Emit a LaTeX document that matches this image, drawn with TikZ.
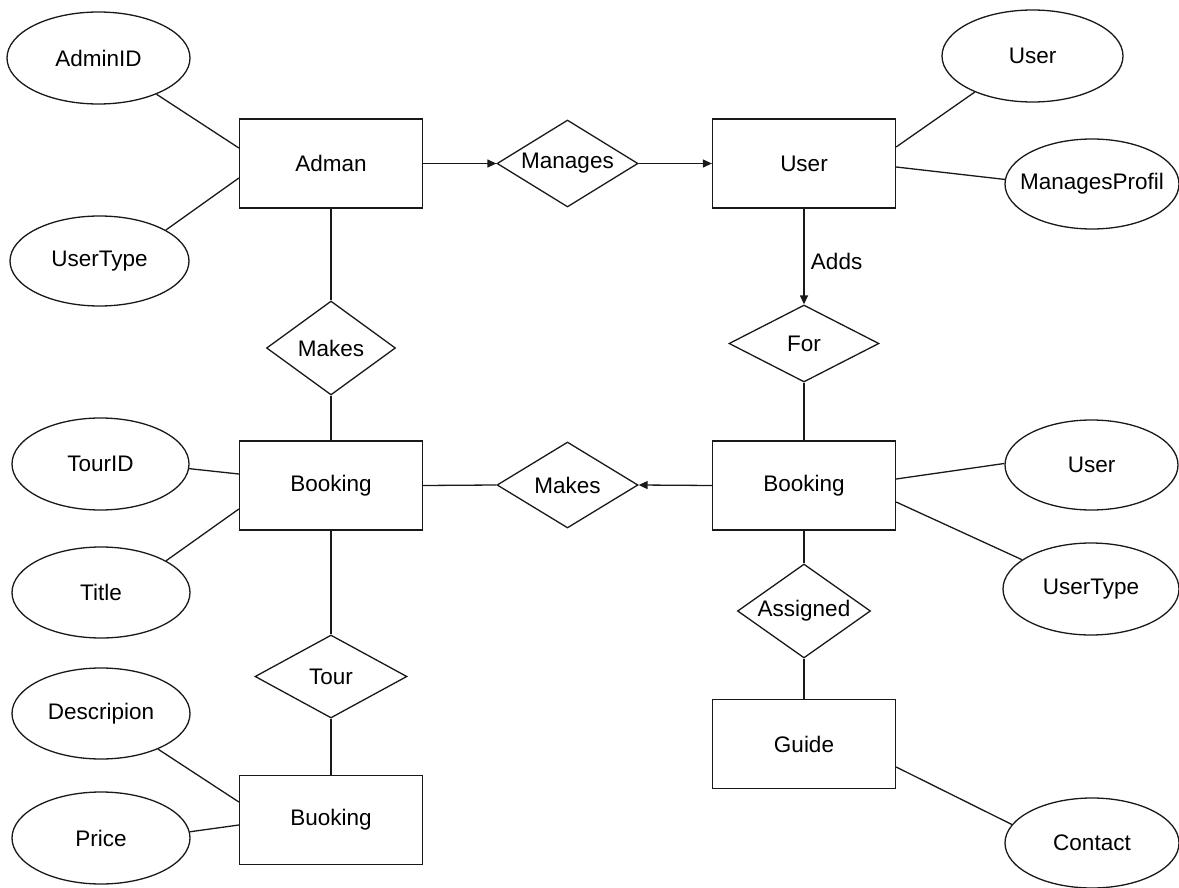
\documentclass[tikz,border=0pt]{standalone}
\usepackage{fontspec}
\setmainfont{Liberation Sans}
\usetikzlibrary{shapes.geometric,arrows.meta,calc}
\tikzset{
  base/.style={draw=black!90, line width=1.3pt, inner sep=0pt, font=\fontsize{22.5}{26}\selectfont},
  entity/.style={base, rectangle, minimum width=183pt, minimum height=89pt},
  attr/.style={base, ellipse, minimum width=#1},
  rel/.style={base, diamond},
  link/.style={draw=black!90, line width=1.3pt},
  arr/.style={link, -{Triangle[length=9pt,width=8pt]}}
}
\newcommand{\tx}[1]{\makebox[0pt][c]{#1}}
\begin{document}
\begin{tikzpicture}[x=1pt,y=-1pt]
\useasboundingbox[fill=white] (0,0) rectangle (1179,888);
% entities
\node[entity] (adman) at (331,163.5) {\tx{Adman}};
\node[entity] (user) at (804,163.5) {\tx{User}};
\node[entity] (bookL) at (331,485.5) {\tx{Booking}};
\node[entity] (bookR) at (804,485.5) {\tx{Booking}};
\node[entity] (buoking) at (331,820) {\tx{Buoking}};
\node[entity] (guide) at (804,744) {\tx{Guide}};
% relationships
\node[rel, minimum width=141pt, minimum height=87pt] (manages) at (567.5,163.5) {\tx{Manages}};
\node[rel, minimum width=129pt, minimum height=94pt] (makesA) at (331,348) {\tx{Makes}};
\node[rel, minimum width=150pt, minimum height=77pt] (forD) at (804,343.5) {\tx{For}};
\node[rel, minimum width=141pt, minimum height=86pt] (makesB) at (567.5,485) {\tx{Makes}};
\node[rel, minimum width=152pt, minimum height=83pt] (tour) at (331,676.5) {\tx{Tour}};
\node[rel, minimum width=133pt, minimum height=94pt] (assigned) at (804,611) {\tx{Assigned}};
% attributes
\node[attr=183pt, minimum height=92pt] (adminid) at (98.5,58) {\tx{AdminID}};
\node[attr=179pt, minimum height=90pt] (utL) at (99.5,261) {\tx{UserType}};
\node[attr=181pt, minimum height=92pt] (userTop) at (1032.5,56) {\tx{User}};
\node[attr=174pt, minimum height=90pt] (mprof) at (1092,184) {\tx{ManagesProfil}};
\node[attr=177pt, minimum height=92pt] (tourid) at (100.5,464) {\tx{TourID}};
\node[attr=178pt, minimum height=91pt] (title) at (101,592.5) {\tx{Title}};
\node[attr=178pt, minimum height=91pt] (desc) at (101,713.5) {\tx{Descripion}};
\node[attr=178pt, minimum height=92pt] (price) at (101,838) {\tx{Price}};
\node[attr=173pt, minimum height=90pt] (userR) at (1091.5,465) {\tx{User}};
\node[attr=176pt, minimum height=92pt] (utR) at (1091,589) {\tx{UserType}};
\node[attr=174pt, minimum height=90pt] (contact) at (1092,843) {\tx{Contact}};
% relationship connectors
\draw[arr] (adman.east) -- (manages.west);
\draw[arr] (manages.east) -- (user.west);
\draw[arr] (user.south) -- node[pos=0.55, right=3pt, font=\fontsize{22.5}{26}\selectfont] (addsLbl) {Adds} (forD.north);
\draw[link] (forD.south) -- (bookR.north);
\draw[link] (adman.south) -- (makesA.north);
\draw[link] (makesA.south) -- (bookL.north);
\draw[link] (bookL.east) -- (makesB.west);
\draw[arr] (bookR.west) -- (makesB.east);
\draw[link] (bookL.south) -- (tour.north);
\draw[link] (tour.south) -- (buoking.north);
\draw[link] (bookR.south) -- (assigned.north);
\draw[link] (assigned.south) -- (guide.north);
% attribute connectors
\draw[link] (adminid.-32) -- ($(adman.west)+(0,-15.5)$);
\draw[link] (utL.25) -- ($(adman.west)+(0,14.5)$);
\draw[link] (userTop.-148) -- ($(user.east)+(0,-16.5)$);
\draw[link] (mprof.177) -- ($(user.east)+(0,3.5)$);
\draw[link] (tourid.-3) -- ($(bookL.west)+(0,-11.5)$);
\draw[link] (title.26) -- ($(bookL.west)+(0,23.5)$);
\draw[link] (desc.-32) -- ($(buoking.west)+(0,-18)$);
\draw[link] (price.4) -- ($(buoking.west)+(0,5)$);
\draw[link] (userR.179) -- ($(bookR.east)+(0,-6.5)$);
\draw[link] (utR.157) -- ($(bookR.east)+(0,16.5)$);
\draw[link] (contact.167) -- ($(guide.east)+(0,23)$);
\end{tikzpicture}
\end{document}
